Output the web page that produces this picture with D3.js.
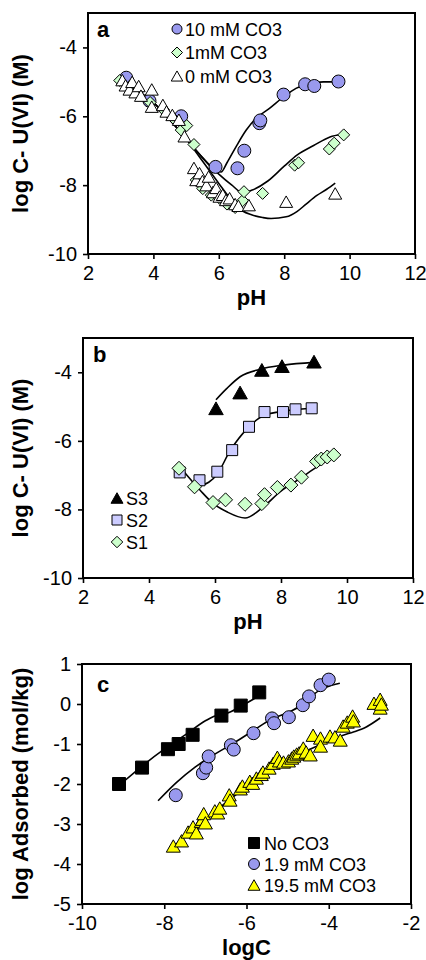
<!DOCTYPE html>
<html>
<head>
<meta charset="utf-8">
<script src="https://cdn.jsdelivr.net/npm/d3@7"></script>
<style>
  body { margin: 0; background: #fff; }
  text { font-family: "Liberation Sans", Arial, sans-serif; fill: #000; }
</style>
</head>
<body>
<svg id="chart" width="426" height="960"></svg>
<script>
// ---- data ----
var phTicks = [2, 4, 6, 8, 10, 12];
var pHYTicks = [-4, -6, -8, -10];
var logCTicks = [-10, -8, -6, -4, -2];
var adsTicks = [1, 0, -1, -2, -3, -4, -5];

// panel a : [pH, log C]
var a10mM = [[3.17,-4.88],[3.88,-5.55],[4.85,-6.0],[5.9,-7.47],[6.57,-7.51],[6.78,-7.0],[7.24,-6.2],[7.27,-6.12],[7.98,-5.37],[8.64,-5.07],[8.92,-5.12],[9.66,-4.99]];
var a1mM = [[2.97,-4.96],[3.3,-5.1],[3.5,-5.3],[3.9,-5.6],[4.3,-5.8],[4.6,-6.05],[4.85,-6.4],[5.02,-6.27],[5.24,-6.82],[5.31,-7.85],[5.51,-8.1],[5.77,-8.29],[6.02,-8.38],[6.25,-8.55],[6.5,-8.65],[6.73,-8.45],[6.77,-8.19],[7.34,-8.24],[8.32,-7.42],[8.44,-7.35],[9.38,-6.95],[9.53,-6.78],[9.82,-6.54]];
var a0mM = [[3.05,-4.95],[3.15,-5.1],[3.27,-5.22],[3.35,-5.0],[3.45,-5.3],[3.55,-5.12],[3.62,-5.4],[3.95,-5.22],[3.95,-5.72],[4.29,-5.67],[4.4,-5.86],[4.58,-5.96],[4.78,-6.1],[4.95,-6.58],[5.24,-7.5],[5.31,-7.85],[5.41,-7.65],[5.5,-7.88],[5.62,-8.0],[5.69,-7.75],[5.82,-8.2],[5.92,-8.08],[6.02,-8.33],[6.12,-8.28],[6.22,-8.43],[6.33,-8.38],[6.5,-8.55],[6.6,-8.6],[6.92,-8.58],[8.06,-8.48],[9.56,-8.24]];
var a10mMFit = [[3.0,-4.95],[3.5,-5.25],[4.0,-5.6],[4.5,-6.1],[5.0,-6.65],[5.5,-7.2],[5.8,-7.5],[6.07,-7.62],[6.25,-7.35],[6.53,-6.88],[6.84,-6.4],[7.14,-6.06],[7.55,-5.77],[7.99,-5.43],[8.36,-5.19],[8.77,-5.05],[9.2,-5.0],[9.5,-5.0]];
var a1mMFit = [[3.0,-4.95],[3.5,-5.25],[4.0,-5.6],[4.5,-6.1],[5.0,-6.65],[5.5,-7.2],[6.0,-7.68],[6.4,-8.0],[6.73,-8.22],[7.0,-8.15],[7.5,-7.88],[8.0,-7.45],[8.4,-7.12],[8.9,-6.85],[9.4,-6.6],[9.75,-6.52]];
var a0mMFit = [[3.0,-4.95],[3.5,-5.25],[4.0,-5.6],[4.5,-6.1],[5.0,-6.65],[5.5,-7.3],[6.0,-7.95],[6.4,-8.45],[6.73,-8.75],[7.0,-8.86],[7.34,-8.94],[7.6,-8.97],[8.06,-8.92],[8.4,-8.76],[8.67,-8.55],[9.0,-8.3],[9.3,-8.12],[9.56,-7.94]];

// panel b : [pH, log C]
var bS3 = [[6.03,-5.05],[6.76,-4.59],[7.42,-3.93],[8.03,-3.82],[9.0,-3.69]];
var bS2 = [[4.93,-6.92],[5.53,-7.15],[6.07,-6.9],[6.52,-6.27],[7.03,-5.59],[7.5,-5.16],[8.06,-5.16],[8.44,-5.08],[8.93,-5.05]];
var bS1 = [[4.91,-6.8],[5.38,-7.34],[5.94,-7.8],[6.32,-7.72],[6.91,-7.85],[7.42,-7.83],[7.5,-7.57],[7.89,-7.36],[8.3,-7.29],[8.62,-7.06],[9.08,-6.6],[9.22,-6.53],[9.4,-6.47],[9.6,-6.41]];
var bS3Fit = [[6.03,-4.8],[6.36,-4.47],[6.76,-4.13],[7.37,-3.91],[8.08,-3.79],[9.0,-3.71]];
var bS2Fit = [[5.55,-7.32],[6.07,-6.97],[6.45,-6.3],[7.0,-5.62],[7.47,-5.26],[7.98,-5.15],[8.93,-5.05]];
var bS1Fit = [[4.99,-6.82],[5.55,-7.44],[5.95,-7.83],[6.36,-8.07],[6.91,-8.25],[7.47,-7.92],[7.98,-7.48],[8.59,-7.09],[9.09,-6.76],[9.6,-6.46]];

// panel c : [logC, log adsorbed]
var cNoCO3 = [[-9.1,-2.0],[-8.54,-1.59],[-7.91,-1.13],[-7.65,-1.0],[-7.31,-0.77],[-6.61,-0.29],[-6.14,-0.04],[-5.69,0.29]];
var c19mM = [[-7.72,-2.28],[-7.06,-1.73],[-6.98,-1.59],[-6.92,-1.31],[-6.38,-1.03],[-6.31,-1.14],[-5.83,-0.73],[-5.38,-0.36],[-5.33,-0.48],[-4.97,-0.33],[-4.63,-0.03],[-4.48,0.19],[-4.2,0.47],[-4.0,0.61]];
var c195mM = [[-7.78,-3.55],[-7.58,-3.42],[-7.42,-3.2],[-7.3,-3.07],[-7.22,-3.22],[-7.1,-2.93],[-7.07,-2.88],[-7.04,-2.74],[-7.0,-2.97],[-6.77,-2.67],[-6.7,-2.72],[-6.65,-2.6],[-6.42,-2.27],[-6.4,-2.4],[-6.15,-2.12],[-6.1,-2.05],[-5.92,-1.93],[-5.85,-1.98],[-5.76,-1.85],[-5.64,-1.76],[-5.6,-1.7],[-5.45,-1.6],[-5.35,-1.48],[-5.25,-1.33],[-5.2,-1.42],[-5.1,-1.45],[-4.98,-1.42],[-4.9,-1.35],[-4.85,-1.3],[-4.78,-1.25],[-4.72,-1.22],[-4.62,-1.1],[-4.55,-1.2],[-4.45,-1.27],[-4.38,-0.78],[-4.2,-0.85],[-4.2,-1.05],[-3.97,-0.8],[-3.85,-0.82],[-3.72,-0.9],[-3.65,-0.55],[-3.55,-0.45],[-3.42,-0.3],[-3.4,-0.42],[-2.9,0.02],[-2.75,0.12],[-2.75,-0.1],[-2.72,0.0]];
var cNoCO3Fit = [[-9.0,-1.95],[-8.5,-1.52],[-8.0,-1.13],[-7.5,-0.78],[-7.0,-0.42],[-6.8,-0.31],[-6.5,-0.24],[-6.2,-0.1],[-5.9,0.08],[-5.55,0.3]];
var c19mMFit = [[-8.15,-2.42],[-7.7,-1.96],[-7.25,-1.58],[-6.8,-1.27],[-6.3,-0.97],[-5.8,-0.64],[-5.4,-0.38],[-5.0,-0.22],[-4.7,-0.05],[-4.45,0.17],[-4.15,0.39],[-3.95,0.46],[-3.73,0.52]];
var c195mMFit = [[-7.8,-3.58],[-7.3,-3.15],[-6.8,-2.72],[-6.3,-2.3],[-5.8,-1.92],[-5.3,-1.58],[-4.8,-1.3],[-4.3,-1.06],[-3.9,-0.88],[-3.65,-0.78],[-3.4,-0.7],[-3.1,-0.58],[-2.75,-0.35]];

var svg = d3.select("#chart");

// marker path builders, centred on (cx, cy)
function shapePath(type, cx, cy, s) {
  var h = s / 2;
  if (type === "diamond") {
    return `M${cx},${cy - h}L${cx + h},${cy}L${cx},${cy + h}L${cx - h},${cy}Z`;
  }
  if (type === "triangle") {
    var th = s * 0.88;
    return `M${cx},${cy - th / 2}L${cx + h},${cy + th / 2}L${cx - h},${cy + th / 2}Z`;
  }
  if (type === "square") {
    return `M${cx - h},${cy - h}h${s}v${s}h${-s}Z`;
  }
  // circle
  return `M${cx - h},${cy}a${h},${h} 0 1,0 ${s},0a${h},${h} 0 1,0 ${-s},0Z`;
}

// plain hyphen minus, no decimals, like the original figure
function tickFmt(d) { return String(d); }

function drawPanel(p) {
  var g = svg.append("g");
  var x = d3.scaleLinear().domain(p.xDomain).range([p.left, p.right]);
  var y = d3.scaleLinear().domain(p.yDomain).range([p.bottom, p.top]);

  var xAxis = g.append("g")
    .attr("transform", `translate(0,${p.bottom})`)
    .call(d3.axisBottom(x).tickValues(p.xTicks).tickFormat(tickFmt)
      .tickSize(5).tickPadding(7).tickSizeOuter(0));
  var yAxis = g.append("g")
    .attr("transform", `translate(${p.left},0)`)
    .call(d3.axisLeft(y).tickValues(p.yTicks).tickFormat(tickFmt)
      .tickSize(5).tickPadding(6).tickSizeOuter(0));

  [xAxis, yAxis].forEach(function(ax) {
    ax.select(".domain").remove();
    ax.selectAll(".tick line").attr("stroke", "#000").attr("stroke-width", 1.6);
    ax.selectAll(".tick text")
      .attr("font-size", 20)
      .attr("font-family", "Liberation Sans, Arial, sans-serif")
      .attr("fill", "#000");
  });

  g.append("rect")
    .attr("x", p.left).attr("y", p.top)
    .attr("width", p.right - p.left).attr("height", p.bottom - p.top)
    .attr("fill", "none").attr("stroke", "#000").attr("stroke-width", 2);

  var line = d3.line()
    .x(function(d) { return x(d[0]); })
    .y(function(d) { return y(d[1]); })
    .curve(d3.curveMonotoneX);

  p.fits.forEach(function(f) {
    g.append("path")
      .attr("d", line(f))
      .attr("fill", "none")
      .attr("stroke", "#000")
      .attr("stroke-width", 1.6);
  });

  p.series.forEach(function(s) {
    g.append("g").selectAll("path")
      .data(s.data)
      .enter()
      .append("path")
      .attr("d", function(d) { return shapePath(s.shape, x(d[0]), y(d[1]), s.size); })
      .attr("fill", s.fill)
      .attr("stroke", "#000")
      .attr("stroke-width", 1);
  });

  // legend
  p.legend.forEach(function(item, i) {
    var ly = p.legendY + i * p.legendStep;
    g.append("path")
      .attr("d", shapePath(item.shape, p.legendX, ly, item.size))
      .attr("fill", item.fill)
      .attr("stroke", "#000")
      .attr("stroke-width", 1);
    g.append("text")
      .attr("x", p.legendX + p.legendGap)
      .attr("y", ly + 6.5)
      .attr("font-size", 18)
      .text(item.label);
  });

  g.append("text")
    .attr("x", p.letterX).attr("y", p.letterY)
    .attr("font-size", 22).attr("font-weight", "bold")
    .text(p.letter);

  g.append("text")
    .attr("x", (p.left + p.right) / 2).attr("y", p.bottom + 51)
    .attr("text-anchor", "middle")
    .attr("font-size", 22).attr("font-weight", "bold")
    .text(p.xLabel);

  g.append("text")
    .attr("transform", `translate(28,${(p.top + p.bottom) / 2}) rotate(-90)`)
    .attr("text-anchor", "middle")
    .attr("font-size", 22).attr("font-weight", "bold")
    .text(p.yLabel);
}

drawPanel({
  left: 88, right: 415, top: 13, bottom: 254,
  xDomain: [2, 12], yDomain: [-10, -3],
  xTicks: phTicks, yTicks: pHYTicks,
  xLabel: "pH", yLabel: "log C- U(VI) (M)",
  letter: "a", letterX: 97, letterY: 37,
  fits: [a10mMFit, a1mMFit, a0mMFit],
  series: [
    { data: a10mM, shape: "circle", fill: "#9999ee", size: 13 },
    { data: a1mM, shape: "diamond", fill: "#ccffcc", size: 12 },
    { data: a0mM, shape: "triangle", fill: "#ffffff", size: 13 }
  ],
  legendX: 177, legendY: 29, legendStep: 23.5, legendGap: 8,
  legend: [
    { shape: "circle", fill: "#9999ee", size: 10, label: "10 mM CO3" },
    { shape: "diamond", fill: "#ccffcc", size: 11, label: "1mM CO3" },
    { shape: "triangle", fill: "#ffffff", size: 11.5, label: "0 mM CO3" }
  ]
});

drawPanel({
  left: 83, right: 413, top: 338, bottom: 578,
  xDomain: [2, 12], yDomain: [-10, -3],
  xTicks: phTicks, yTicks: pHYTicks,
  xLabel: "pH", yLabel: "log C- U(VI) (M)",
  letter: "b", letterX: 93, letterY: 362,
  fits: [bS3Fit, bS2Fit, bS1Fit],
  series: [
    { data: bS3, shape: "triangle", fill: "#000000", size: 14.5 },
    { data: bS2, shape: "square", fill: "#ccccff", size: 11 },
    { data: bS1, shape: "diamond", fill: "#ccffcc", size: 14 }
  ],
  legendX: 117, legendY: 498, legendStep: 22, legendGap: 9,
  legend: [
    { shape: "triangle", fill: "#000000", size: 12, label: "S3" },
    { shape: "square", fill: "#ccccff", size: 10, label: "S2" },
    { shape: "diamond", fill: "#ccffcc", size: 11.5, label: "S1" }
  ]
});

drawPanel({
  left: 82, right: 411, top: 664, bottom: 904,
  xDomain: [-10, -2], yDomain: [-5, 1],
  xTicks: logCTicks, yTicks: adsTicks,
  xLabel: "logC", yLabel: "log Adsorbed (mol/kg)",
  letter: "c", letterX: 97, letterY: 692,
  fits: [cNoCO3Fit, c19mMFit, c195mMFit],
  series: [
    { data: cNoCO3, shape: "square", fill: "#000000", size: 13 },
    { data: c19mM, shape: "circle", fill: "#9999ee", size: 13 },
    { data: c195mM, shape: "triangle", fill: "#ffff00", size: 14 }
  ],
  legendX: 254, legendY: 843, legendStep: 21, legendGap: 10,
  legend: [
    { shape: "square", fill: "#000000", size: 11, label: "No CO3" },
    { shape: "circle", fill: "#9999ee", size: 11, label: "1.9 mM CO3" },
    { shape: "triangle", fill: "#ffff00", size: 12, label: "19.5 mM CO3" }
  ]
});
</script>
</body>
</html>
